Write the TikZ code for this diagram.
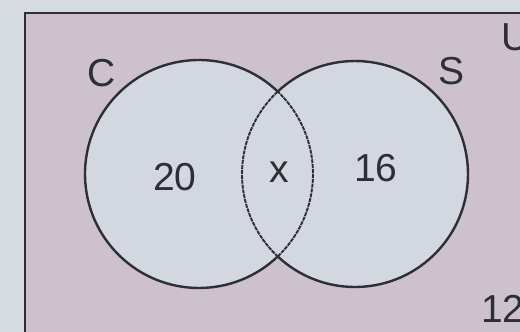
\documentclass[tikz,border=0pt]{standalone}
\usepackage{fontspec}
\setmainfont{Liberation Sans}
\definecolor{paper}{HTML}{D6DBE2}
\definecolor{universe}{HTML}{CDC1CB}
\definecolor{setfill}{HTML}{D3D7E0}
\definecolor{ink}{HTML}{2E2E36}
\begin{document}
\begin{tikzpicture}[x=1pt,y=1pt,
  lbl/.style={font=\fontsize{39}{39}\selectfont, text=ink, inner sep=0pt},
  outline/.style={draw=ink, line width=2.4pt},
  innerarc/.style={draw=ink, line width=1.9pt, dash pattern=on 4pt off 0.9pt}]
\useasboundingbox (0,0) rectangle (520,332);
\fill[paper] (0,0) rectangle (520,332);
\begin{scope}
\clip (0,0) rectangle (520,332);
\draw[draw=ink, line width=2.6pt, fill=universe] (25,-20) rectangle (560,319);
\end{scope}
\coordinate (c1) at (199,158);
\coordinate (c2) at (355,158);
% fills
\fill[setfill] (c1) circle[radius=114];
\fill[setfill] (c2) circle[radius=113];
% outer solid arcs
\draw[outline] (c1) ++(46.3:114) arc[start angle=46.3, end angle=313.7, radius=114];
\draw[outline] (c2) ++(-133.2:113) arc[start angle=-133.2, end angle=133.2, radius=113];
% inner dashed arcs
\draw[innerarc] (c1) ++(-46.3:114) arc[start angle=-46.3, end angle=46.3, radius=114];
\draw[innerarc] (c2) ++(133.2:113) arc[start angle=133.2, end angle=226.8, radius=113];
% labels
\node[lbl] (lc) at (102,259) {C};
\node[lbl] (ls) at (452,261) {S};
\node[lbl, anchor=west] (lu) at (501,295) {U};
\node[lbl] (n20) at (175,155) {20};
\node[lbl] (nx) at (279,160) {x};
\node[lbl] (n16) at (376,164) {16};
\node[lbl, anchor=west] (n12) at (481,23) {12};
\end{tikzpicture}
\end{document}
